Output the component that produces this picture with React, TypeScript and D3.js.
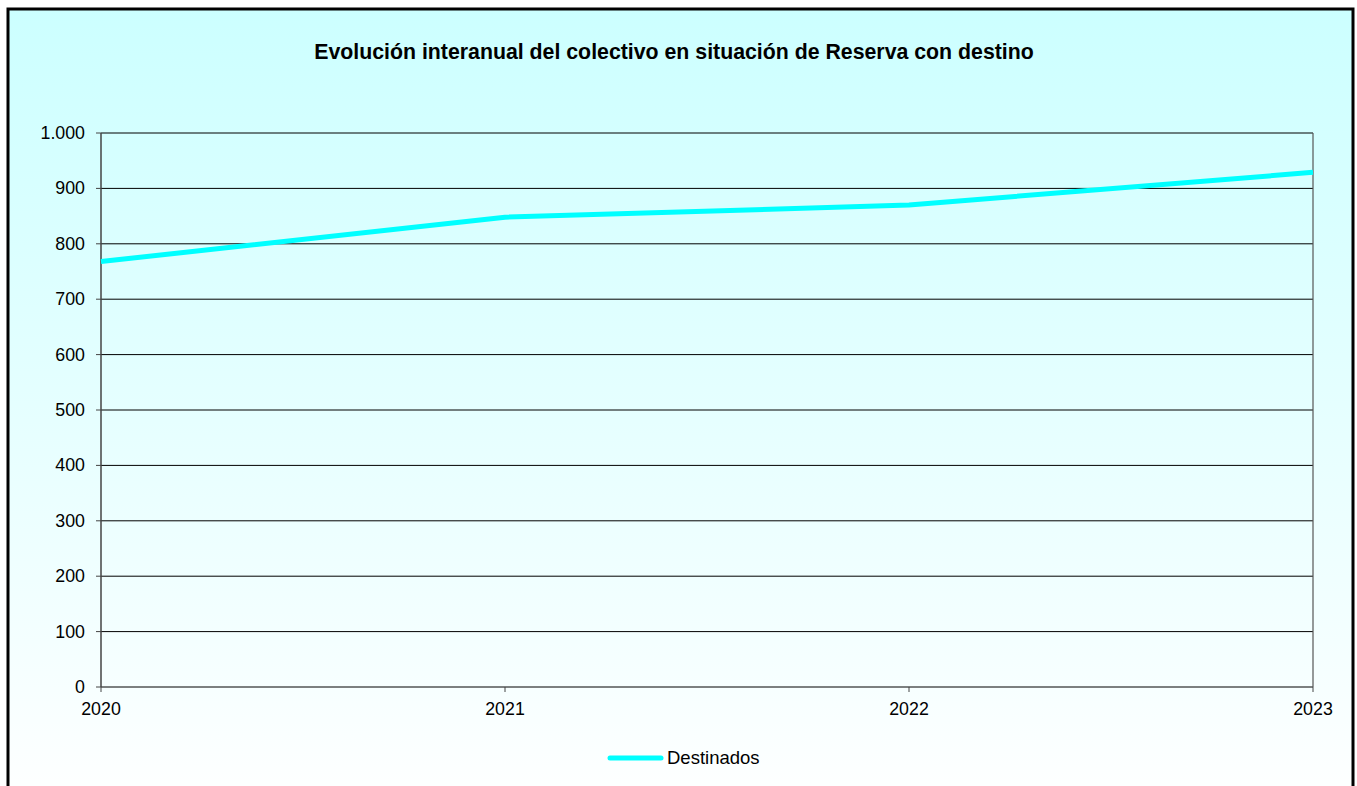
import React from "react";
import * as d3 from "d3";

const years = ["2020", "2021", "2022", "2023"];
const destinados = [768, 848, 870, 929];
const yTicks = [0, 100, 200, 300, 400, 500, 600, 700, 800, 900, 1000];
const title = "Evolución interanual del colectivo en situación de Reserva con destino";
const seriesName = "Destinados";

const W = 1357;
const H = 786;
const M = { left: 101, right: 1313, top: 133, bottom: 687 };
const FONT = "'Liberation Sans', Arial, sans-serif";

const fmt = (v: number) => (v >= 1000 ? d3.format(",")(v).replace(/,/g, ".") : String(v));

export default function App() {
  const x = d3.scalePoint<string>().domain(years).range([M.left, M.right]).padding(0);
  const y = d3.scaleLinear().domain([0, 1000]).range([M.bottom, M.top]);
  const line = d3
    .line<number>()
    .x((_, i) => x(years[i]) as number)
    .y((d) => y(d));

  return (
    <svg
      width={W}
      height={H}
      style={{ position: "absolute", left: 0, top: 0, display: "block" }}
      fontFamily={FONT}
    >
      <defs>
        <linearGradient id="bg" x1="0" y1="0" x2="0" y2="1">
          <stop offset="0" stopColor="#CCFFFF" />
          <stop offset="1" stopColor="#FFFFFF" />
        </linearGradient>
      </defs>
      <rect x={0} y={0} width={W} height={H} fill="#ffffff" />
      <rect x={8} y={9} width={1345} height={H + 20} fill="url(#bg)" stroke="#000" strokeWidth={3} />

      <text x={674} y={59} textAnchor="middle" fontWeight="bold" fontSize={21.3} fill="#000">
        {title}
      </text>

      {yTicks.map((t) => (
        <g key={t}>
          <line x1={M.left} x2={M.right} y1={y(t)} y2={y(t)} stroke="#000" strokeWidth={1} />
          <line x1={M.left - 5} x2={M.left} y1={y(t)} y2={y(t)} stroke="#444" strokeWidth={1} />
          <text x={85} y={y(t) + 6} textAnchor="end" fontSize={17.8} fill="#000">
            {fmt(t)}
          </text>
        </g>
      ))}

      <line x1={M.left} x2={M.left} y1={M.top} y2={M.bottom} stroke="#444" strokeWidth={1.5} />
      <line x1={M.right} x2={M.right} y1={M.top} y2={M.bottom} stroke="#555" strokeWidth={1.2} />

      {years.map((yr) => (
        <g key={yr}>
          <line x1={x(yr)} x2={x(yr)} y1={M.bottom} y2={M.bottom + 5} stroke="#444" strokeWidth={1} />
          <text x={x(yr)} y={M.bottom + 28} textAnchor="middle" fontSize={17.8} fill="#000">
            {yr}
          </text>
        </g>
      ))}

      <path d={line(destinados) || ""} fill="none" stroke="#00FFFF" strokeWidth={5} strokeLinejoin="round" />

      <line x1={610} x2={661} y1={758} y2={758} stroke="#00FFFF" strokeWidth={5} strokeLinecap="round" />
      <text x={667} y={764} fontSize={18.5} fill="#000">
        {seriesName}
      </text>
    </svg>
  );
}
